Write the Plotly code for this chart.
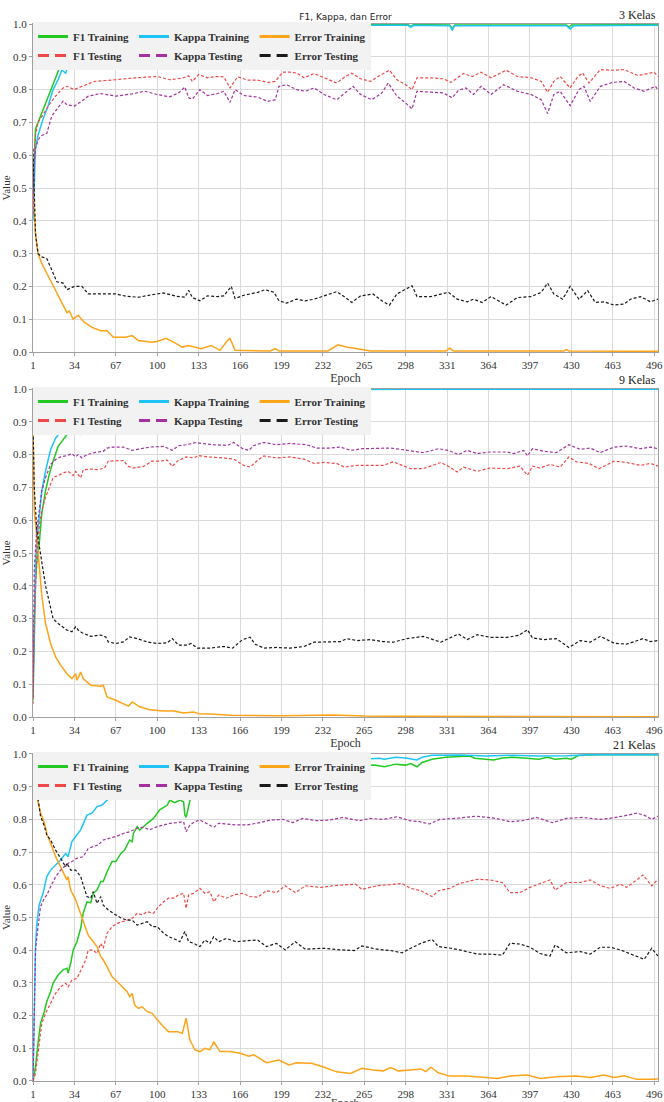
import plotly.graph_objects as go

# ---------------- data ----------------
TICK_EPOCHS = [1, 34, 67, 100, 133, 166, 199, 232, 265, 298, 331, 364, 397, 430, 463, 496]
Y_TICKS = [0.0, 0.1, 0.2, 0.3, 0.4, 0.5, 0.6, 0.7, 0.8, 0.9, 1.0]
PANEL_LABELS = ["3 Kelas", "9 Kelas", "21 Kelas"]
SERIES_NAMES = ["F1 Training", "F1 Testing", "Kappa Training", "Kappa Testing",
                "Error Training", "Error Testing"]

# ---- 3 Kelas ----
P1_F1_TRAIN = [(1,0.48),(2,0.62),(3,0.68),(5,0.70),(7,0.72),(10,0.745),(14,0.785),(18,0.83),(22,0.866),(24,0.884),(26,0.89),(30,0.91),(35,0.93),(40,0.945),(50,0.96),(60,0.972),(80,0.985),(100,0.99),(130,0.993),(160,0.995),(200,0.997),(240,0.998),(300,0.998),(302,0.992),(304,0.998),(333,0.997),(335,0.986),(337,0.997),(400,0.998),(426,0.997),(428,0.99),(430,0.997),(499,0.998)]
P1_KAPPA_TRAIN = [(1,0.40),(2,0.55),(3,0.62),(5,0.66),(9,0.71),(13,0.75),(17,0.80),(21,0.83),(24,0.86),(27,0.85),(29,0.876),(32,0.87),(34,0.866),(36,0.88),(40,0.91),(50,0.94),(60,0.96),(80,0.978),(100,0.985),(130,0.99),(160,0.993),(200,0.995),(250,0.996),(300,0.996),(302,0.99),(304,0.996),(333,0.995),(335,0.982),(337,0.995),(426,0.995),(429,0.985),(432,0.995),(499,0.996)]
P1_F1_TEST = [(1,0.52),(2,0.62),(3,0.66),(5,0.70),(10,0.73),(15,0.76),(20,0.785),(25,0.805),(28,0.81),(34,0.80),(40,0.81),(50,0.825),(67,0.83),(80,0.835),(100,0.84),(110,0.83),(120,0.835),(125,0.842),(128,0.825),(133,0.846),(140,0.836),(147,0.84),(153,0.839),(158,0.805),(164,0.839),(172,0.829),(180,0.829),(188,0.822),(194,0.825),(200,0.853),(206,0.853),(211,0.851),(217,0.836),(225,0.849),(233,0.836),(243,0.82),(250,0.84),(255,0.85),(262,0.833),(270,0.825),(276,0.84),(285,0.859),(291,0.83),(298,0.815),(303,0.80),(307,0.836),(318,0.836),(328,0.833),(334,0.822),(339,0.836),(344,0.849),(351,0.84),(358,0.853),(366,0.836),(378,0.859),(387,0.84),(398,0.836),(406,0.825),(411,0.792),(416,0.825),(421,0.84),(429,0.805),(435,0.839),(439,0.851),(444,0.82),(453,0.861),(463,0.859),(472,0.861),(483,0.843),(496,0.853),(499,0.84)]
P1_KAPPA_TEST = [(1,0.42),(2,0.58),(3,0.62),(5,0.647),(8,0.66),(12,0.667),(16,0.72),(20,0.74),(25,0.765),(28,0.754),(34,0.75),(38,0.76),(45,0.78),(55,0.788),(67,0.78),(80,0.787),(90,0.795),(100,0.785),(110,0.778),(117,0.79),(122,0.808),(125,0.775),(128,0.771),(134,0.80),(140,0.782),(148,0.788),(153,0.795),(158,0.761),(162,0.80),(169,0.782),(180,0.777),(188,0.764),(194,0.769),(197,0.81),(203,0.815),(211,0.80),(218,0.795),(225,0.805),(233,0.785),(243,0.769),(250,0.79),(256,0.81),(262,0.785),(271,0.769),(279,0.79),(284,0.82),(291,0.78),(298,0.759),(303,0.741),(307,0.795),(318,0.792),(328,0.79),(335,0.775),(340,0.798),(346,0.805),(352,0.785),(358,0.81),(366,0.785),(376,0.815),(387,0.795),(398,0.785),(406,0.769),(411,0.727),(416,0.785),(421,0.795),(429,0.751),(436,0.80),(440,0.81),(445,0.764),(453,0.81),(463,0.822),(472,0.825),(480,0.805),(488,0.795),(497,0.81),(499,0.798)]
P1_ERROR_TRAIN = [(1,0.50),(2,0.42),(3,0.36),(5,0.30),(8,0.27),(12,0.24),(16,0.21),(20,0.18),(24,0.15),(28,0.12),(30,0.125),(33,0.10),(37,0.112),(42,0.09),(48,0.075),(55,0.065),(60,0.065),(65,0.045),(75,0.045),(80,0.05),(85,0.035),(95,0.03),(100,0.032),(107,0.042),(113,0.03),(120,0.015),(125,0.02),(130,0.015),(135,0.01),(143,0.02),(150,0.005),(156,0.035),(158,0.041),(162,0.005),(190,0.003),(194,0.01),(197,0.003),(236,0.003),(244,0.022),(251,0.015),(261,0.008),(270,0.003),(330,0.003),(333,0.012),(336,0.003),(424,0.003),(426,0.007),(428,0.003),(499,0.002)]
P1_ERROR_TEST = [(1,0.62),(2,0.45),(3,0.36),(5,0.30),(8,0.29),(12,0.285),(16,0.25),(20,0.214),(25,0.21),(28,0.19),(34,0.20),(40,0.20),(45,0.177),(55,0.177),(67,0.177),(75,0.17),(85,0.167),(95,0.174),(105,0.18),(115,0.17),(122,0.167),(125,0.188),(128,0.166),(134,0.156),(140,0.171),(148,0.169),(153,0.171),(159,0.20),(162,0.163),(169,0.173),(180,0.182),(186,0.19),(193,0.182),(197,0.156),(203,0.149),(211,0.161),(218,0.156),(225,0.161),(233,0.171),(243,0.184),(250,0.166),(255,0.151),(262,0.171),(272,0.177),(279,0.156),(285,0.143),(291,0.177),(298,0.192),(303,0.202),(307,0.169),(318,0.169),(332,0.182),(339,0.161),(347,0.153),(352,0.161),(359,0.151),(366,0.169),(378,0.143),(387,0.166),(398,0.169),(406,0.182),(411,0.21),(416,0.177),(423,0.161),(429,0.20),(436,0.161),(443,0.187),(449,0.151),(456,0.153),(464,0.143),(472,0.146),(477,0.161),(485,0.169),(493,0.153),(499,0.161)]

# ---- 9 Kelas ----
P2_F1_TRAIN = [(1,0.05),(2,0.30),(3,0.41),(4,0.47),(6,0.53),(8,0.62),(11,0.69),(14,0.74),(17,0.78),(21,0.825),(25,0.845),(29,0.866),(33,0.88),(36,0.87),(37,0.88),(39,0.86),(40,0.884),(45,0.91),(55,0.94),(70,0.965),(90,0.98),(120,0.99),(150,0.995),(200,0.998),(300,0.999),(400,0.999),(499,0.999)]
P2_KAPPA_TRAIN = [(1,0.10),(2,0.35),(3,0.46),(4,0.53),(6,0.60),(8,0.69),(11,0.75),(15,0.815),(19,0.85),(23,0.87),(27,0.886),(32,0.90),(40,0.93),(55,0.96),(70,0.975),(90,0.985),(120,0.993),(150,0.997),(200,0.999),(300,0.999),(400,0.999),(499,0.999)]
P2_F1_TEST = [(1,0.04),(2,0.30),(4,0.49),(6,0.58),(8,0.63),(11,0.67),(15,0.71),(17,0.73),(21,0.736),(25,0.744),(29,0.749),(33,0.736),(35,0.749),(39,0.729),(41,0.754),(47,0.756),(53,0.754),(58,0.759),(61,0.78),(67,0.78),(73,0.782),(77,0.764),(81,0.759),(89,0.764),(96,0.78),(102,0.78),(108,0.783),(112,0.764),(116,0.78),(123,0.793),(129,0.79),(133,0.797),(140,0.793),(153,0.79),(161,0.786),(169,0.767),(174,0.762),(180,0.783),(185,0.796),(195,0.79),(206,0.793),(217,0.786),(225,0.773),(233,0.776),(243,0.773),(249,0.762),(259,0.767),(270,0.767),(280,0.767),(288,0.778),(296,0.767),(302,0.757),(312,0.757),(326,0.776),(333,0.762),(339,0.747),(344,0.762),(355,0.749),(365,0.759),(379,0.757),(389,0.765),(395,0.737),(399,0.765),(405,0.759),(413,0.77),(421,0.762),(428,0.793),(434,0.778),(444,0.773),(452,0.757),(464,0.78),(474,0.776),(485,0.767),(493,0.773),(499,0.765)]
P2_KAPPA_TEST = [(1,0.06),(2,0.45),(4,0.57),(6,0.64),(8,0.69),(11,0.73),(15,0.77),(19,0.785),(23,0.793),(28,0.797),(32,0.803),(35,0.793),(37,0.80),(40,0.79),(44,0.80),(51,0.807),(57,0.81),(60,0.82),(65,0.823),(73,0.823),(80,0.813),(86,0.817),(94,0.823),(105,0.825),(112,0.813),(117,0.827),(123,0.83),(131,0.837),(135,0.834),(145,0.83),(156,0.828),(161,0.837),(168,0.818),(173,0.813),(177,0.828),(185,0.837),(195,0.83),(206,0.834),(219,0.83),(227,0.82),(238,0.82),(246,0.823),(254,0.813),(264,0.818),(275,0.818),(286,0.82),(299,0.813),(312,0.806),(324,0.818),(332,0.813),(340,0.80),(347,0.813),(355,0.803),(365,0.808),(379,0.808),(384,0.803),(392,0.813),(395,0.796),(399,0.818),(408,0.81),(418,0.806),(428,0.83),(437,0.816),(445,0.82),(453,0.806),(464,0.823),(474,0.826),(485,0.818),(493,0.823),(499,0.818)]
P2_ERROR_TRAIN = [(1,0.90),(2,0.63),(4,0.55),(6,0.45),(8,0.37),(11,0.285),(15,0.224),(19,0.183),(23,0.158),(28,0.132),(32,0.117),(35,0.132),(36,0.112),(39,0.137),(41,0.117),(47,0.097),(55,0.094),(57,0.097),(60,0.061),(67,0.051),(73,0.041),(77,0.033),(80,0.046),(86,0.031),(94,0.022),(105,0.018),(113,0.018),(121,0.012),(129,0.015),(133,0.01),(142,0.009),(159,0.005),(200,0.004),(230,0.004),(240,0.006),(265,0.003),(300,0.002),(499,0.001)]
P2_ERROR_TEST = [(1,0.90),(2,0.70),(4,0.57),(6,0.52),(8,0.46),(11,0.40),(14,0.35),(17,0.30),(21,0.285),(28,0.265),(32,0.26),(35,0.275),(37,0.265),(40,0.257),(47,0.246),(55,0.25),(59,0.244),(61,0.229),(67,0.224),(73,0.229),(78,0.244),(84,0.239),(92,0.229),(100,0.224),(108,0.226),(112,0.239),(117,0.219),(123,0.219),(127,0.224),(132,0.21),(142,0.21),(153,0.215),(160,0.21),(168,0.236),(174,0.243),(178,0.222),(185,0.21),(195,0.212),(206,0.21),(217,0.215),(225,0.228),(235,0.228),(246,0.23),(251,0.239),(259,0.233),(270,0.236),(280,0.23),(288,0.228),(299,0.239),(312,0.246),(326,0.228),(333,0.241),(340,0.253),(347,0.236),(355,0.251),(365,0.243),(379,0.243),(388,0.249),(395,0.266),(399,0.241),(408,0.236),(418,0.239),(428,0.212),(437,0.233),(445,0.228),(453,0.246),(464,0.225),(474,0.222),(487,0.239),(493,0.23),(499,0.233)]

# ---- 21 Kelas ----
P3_F1_TRAIN = [(1,0.0),(3,0.044),(5,0.115),(7,0.176),(10,0.212),(12,0.243),(15,0.273),(17,0.299),(21,0.324),(25,0.34),(28,0.345),(29,0.33),(31,0.36),(33,0.40),(36,0.426),(39,0.467),(41,0.513),(44,0.548),(47,0.545),(49,0.574),(52,0.584),(55,0.61),(57,0.61),(60,0.64),(64,0.671),(67,0.671),(71,0.696),(74,0.706),(78,0.737),(80,0.732),(81,0.757),(84,0.778),(86,0.767),(89,0.778),(92,0.788),(97,0.803),(102,0.829),(108,0.844),(110,0.859),(114,0.851),(118,0.859),(121,0.854),(122,0.813),(123,0.806),(126,0.854),(128,0.89),(135,0.92),(140,0.91),(142,0.877),(144,0.91),(160,0.93),(190,0.945),(230,0.955),(265,0.963),(273,0.966),(281,0.961),(290,0.969),(298,0.966),(302,0.971),(307,0.961),(311,0.974),(319,0.984),(330,0.99),(341,0.992),(349,0.994),(353,0.987),(362,0.984),(368,0.982),(375,0.988),(383,0.99),(394,0.987),(404,0.984),(411,0.99),(417,0.984),(426,0.987),(430,0.984),(436,0.996),(447,0.997),(453,0.998),(499,0.998)]
P3_KAPPA_TRAIN = [(1,0.0),(2,0.26),(3,0.41),(4,0.48),(6,0.54),(9,0.574),(12,0.625),(15,0.645),(19,0.66),(23,0.676),(27,0.696),(29,0.686),(32,0.732),(35,0.747),(39,0.768),(44,0.813),(48,0.819),(52,0.839),(56,0.844),(60,0.859),(64,0.87),(69,0.88),(73,0.89),(85,0.91),(100,0.93),(130,0.95),(170,0.965),(220,0.975),(265,0.984),(277,0.987),(281,0.984),(290,0.99),(298,0.988),(307,0.982),(311,0.99),(319,0.996),(341,0.997),(362,0.994),(383,0.996),(404,0.994),(426,0.995),(447,0.998),(499,0.998)]
P3_F1_TEST = [(1,0.0),(3,0.023),(6,0.115),(8,0.176),(11,0.207),(15,0.238),(19,0.268),(23,0.288),(27,0.299),(29,0.288),(32,0.309),(36,0.314),(39,0.339),(43,0.37),(45,0.40),(49,0.40),(52,0.39),(55,0.421),(57,0.406),(60,0.452),(64,0.472),(68,0.482),(72,0.487),(76,0.492),(80,0.497),(84,0.513),(88,0.508),(92,0.518),(97,0.513),(101,0.533),(105,0.548),(109,0.559),(113,0.559),(117,0.569),(121,0.574),(123,0.528),(125,0.569),(129,0.574),(134,0.589),(138,0.574),(142,0.579),(145,0.548),(149,0.569),(155,0.559),(161,0.569),(168,0.574),(174,0.564),(180,0.562),(187,0.582),(195,0.576),(202,0.597),(210,0.576),(218,0.597),(230,0.592),(240,0.597),(258,0.602),(263,0.586),(275,0.597),(286,0.602),(295,0.604),(302,0.589),(310,0.582),(319,0.564),(324,0.582),(333,0.589),(341,0.604),(355,0.617),(365,0.615),(375,0.607),(381,0.576),(389,0.576),(397,0.592),(405,0.604),(413,0.615),(417,0.584),(426,0.607),(437,0.607),(445,0.615),(453,0.597),(461,0.589),(469,0.602),(474,0.592),(481,0.612),(487,0.63),(494,0.597),(499,0.617)]
P3_KAPPA_TEST = [(1,0.0),(2,0.26),(3,0.40),(5,0.472),(7,0.533),(10,0.559),(12,0.569),(15,0.594),(19,0.625),(23,0.645),(27,0.66),(29,0.666),(32,0.671),(36,0.681),(41,0.686),(45,0.711),(49,0.717),(53,0.722),(57,0.737),(62,0.742),(68,0.749),(73,0.757),(78,0.762),(84,0.773),(89,0.776),(94,0.768),(100,0.778),(105,0.783),(110,0.788),(115,0.79),(121,0.793),(123,0.762),(126,0.783),(130,0.793),(134,0.798),(139,0.788),(145,0.776),(149,0.788),(155,0.786),(163,0.783),(171,0.783),(182,0.79),(190,0.798),(200,0.80),(208,0.79),(216,0.803),(227,0.796),(237,0.798),(248,0.806),(261,0.796),(269,0.803),(280,0.80),(291,0.808),(301,0.796),(309,0.793),(317,0.786),(325,0.80),(338,0.803),(354,0.81),(370,0.803),(381,0.793),(391,0.796),(402,0.806),(415,0.79),(426,0.803),(439,0.806),(452,0.80),(460,0.803),(471,0.81),(482,0.819),(488,0.813),(494,0.80),(499,0.81)]
P3_ERROR_TRAIN = [(1,0.97),(3,0.92),(4,0.87),(7,0.82),(10,0.79),(12,0.757),(15,0.727),(19,0.686),(23,0.655),(27,0.625),(28,0.615),(29,0.625),(31,0.584),(35,0.554),(39,0.513),(43,0.472),(45,0.446),(49,0.426),(52,0.411),(55,0.38),(57,0.37),(60,0.35),(64,0.319),(68,0.304),(72,0.288),(76,0.273),(78,0.258),(80,0.268),(82,0.232),(85,0.222),(88,0.227),(92,0.212),(96,0.207),(100,0.187),(105,0.166),(109,0.151),(113,0.151),(116,0.151),(120,0.146),(123,0.192),(126,0.125),(130,0.095),(134,0.09),(138,0.10),(142,0.095),(145,0.12),(150,0.09),(158,0.09),(166,0.085),(173,0.076),(177,0.08),(187,0.056),(197,0.064),(205,0.049),(211,0.056),(223,0.054),(233,0.042),(243,0.028),(254,0.023),(263,0.039),(272,0.034),(280,0.031),(286,0.041),(292,0.031),(302,0.034),(310,0.037),(314,0.029),(318,0.042),(324,0.025),(333,0.015),(347,0.015),(360,0.011),(371,0.008),(381,0.015),(395,0.018),(405,0.008),(418,0.013),(434,0.015),(445,0.011),(456,0.018),(464,0.011),(472,0.016),(482,0.005),(493,0.005),(499,0.006)]
P3_ERROR_TEST = [(1,0.97),(3,0.92),(5,0.87),(7,0.81),(10,0.78),(12,0.752),(15,0.737),(19,0.706),(23,0.681),(27,0.655),(28,0.666),(31,0.645),(35,0.645),(39,0.625),(41,0.60),(44,0.564),(47,0.559),(49,0.579),(52,0.543),(55,0.564),(57,0.538),(61,0.523),(67,0.508),(72,0.497),(76,0.492),(80,0.492),(84,0.477),(88,0.482),(92,0.487),(96,0.472),(100,0.472),(105,0.452),(109,0.441),(113,0.436),(118,0.426),(122,0.457),(125,0.426),(129,0.421),(134,0.411),(138,0.431),(142,0.421),(145,0.441),(149,0.426),(155,0.436),(163,0.426),(171,0.429),(180,0.431),(187,0.411),(195,0.421),(202,0.401),(210,0.426),(218,0.403),(233,0.406),(246,0.401),(257,0.399),(263,0.413),(275,0.403),(286,0.399),(295,0.392),(302,0.406),(310,0.421),(319,0.433),(324,0.411),(334,0.406),(341,0.401),(355,0.388),(365,0.388),(375,0.385),(381,0.421),(389,0.419),(397,0.409),(405,0.39),(413,0.382),(417,0.416),(426,0.392),(437,0.396),(445,0.388),(453,0.409),(461,0.409),(469,0.401),(477,0.388),(488,0.372),(494,0.406),(499,0.382)]

PANELS = [
    {"F1 Training": P1_F1_TRAIN, "F1 Testing": P1_F1_TEST,
     "Kappa Training": P1_KAPPA_TRAIN, "Kappa Testing": P1_KAPPA_TEST,
     "Error Training": P1_ERROR_TRAIN, "Error Testing": P1_ERROR_TEST},
    {"F1 Training": P2_F1_TRAIN, "F1 Testing": P2_F1_TEST,
     "Kappa Training": P2_KAPPA_TRAIN, "Kappa Testing": P2_KAPPA_TEST,
     "Error Training": P2_ERROR_TRAIN, "Error Testing": P2_ERROR_TEST},
    {"F1 Training": P3_F1_TRAIN, "F1 Testing": P3_F1_TEST,
     "Kappa Training": P3_KAPPA_TRAIN, "Kappa Testing": P3_KAPPA_TEST,
     "Error Training": P3_ERROR_TRAIN, "Error Testing": P3_ERROR_TEST},
]

# ---------------- styles ----------------
COLORS = {"F1 Training": "#22c922", "F1 Testing": "#f04848",
          "Kappa Training": "#1ec4f8", "Kappa Testing": "#a3319f",
          "Error Training": "#ffa318", "Error Testing": "#1a1a1a"}
GROUP = {"F1 Training": "F1", "F1 Testing": "F1",
         "Kappa Training": "Kappa", "Kappa Testing": "Kappa",
         "Error Training": "Error", "Error Testing": "Error"}
W, H = 664, 1102
M_L, M_R, M_T, M_B = 33, 6, 24, 21
DOMAINS = [(0.68969, 1.0), (0.34437, 0.65468), (0.0, 0.30937)]
SERIF = "Liberation Serif, Times New Roman, serif"
GRID = "#dadada"
AXLINE = "#a0a0a0"

fig = go.Figure()

for p, panel in enumerate(PANELS):
    idx = "" if p == 0 else str(p + 1)
    xa, ya = "x" + idx, "y" + idx
    leg = "legend" + idx
    for name in ["F1 Training", "Kappa Training", "Error Training",
                 "F1 Testing", "Kappa Testing", "Error Testing"]:
        pts = panel[name]
        testing = "Testing" in name
        fig.add_trace(go.Scatter(
            x=[e for e, _ in pts], y=[v for _, v in pts],
            mode="lines", name=name, showlegend=False,
            legendgroup=GROUP[name] + idx,
            line=dict(color=COLORS[name], width=1.2 if testing else 1.5,
                      dash="3px,2px" if testing else "solid"),
            xaxis=xa, yaxis=ya, hoverinfo="skip"))
    for rank, name in enumerate(SERIES_NAMES):
        testing = "Testing" in name
        fig.add_trace(go.Scatter(
            x=[None], y=[None], mode="lines", name=name,
            legend=leg, legendgroup=GROUP[name] + idx, legendrank=rank + 1,
            line=dict(color=COLORS[name], width=3,
                      dash="11px,6px" if testing else "solid"),
            xaxis=xa, yaxis=ya, hoverinfo="skip"))

    last = (p == len(PANELS) - 1)
    axis_common = dict(showline=True, linecolor=AXLINE, linewidth=1, mirror=True,
                       showgrid=True, gridcolor=GRID, gridwidth=1, zeroline=False,
                       ticks="outside", ticklen=3, tickcolor=AXLINE,
                       tickfont=dict(family=SERIF, size=11, color="#333"))
    fig.update_layout(**{
        "xaxis" + idx: dict(axis_common, anchor=ya, domain=[0, 1], range=[1, 499],
                            tickmode="array", tickvals=TICK_EPOCHS,
                            ticktext=[str(t) for t in TICK_EPOCHS],
                            title=dict(text="" if last else "Epoch", standoff=2,
                                       font=dict(family=SERIF, size=12, color="#333"))),
        "yaxis" + idx: dict(axis_common, anchor=xa, domain=list(DOMAINS[p]), range=[0, 1.0],
                            tickmode="array", tickvals=Y_TICKS,
                            ticktext=["%.1f" % t for t in Y_TICKS],
                            title=dict(text="Value", standoff=2,
                                       font=dict(family=SERIF, size=11, color="#333"))),
        leg: dict(x=0, y=DOMAINS[p][1] + 2 / (H - M_T - M_B), xref="paper", yref="paper",
                  xanchor="left", yanchor="top", orientation="h",
                  traceorder="grouped", tracegroupgap=0, itemwidth=30,
                  bgcolor="#f2f2f2", borderwidth=0,
                  font=dict(family=SERIF, size=11, color="#333", weight="bold")),
    })
    fig.add_annotation(text=PANEL_LABELS[p], x=1, y=DOMAINS[p][1], xref="paper", yref="paper",
                       xanchor="right", yanchor="bottom", showarrow=False,
                       font=dict(family=SERIF, size=12, color="#222"))

# bottom panel's x title sits at the very bottom edge (cut there in the reference too)
fig.add_annotation(text="Epoch", x=0.5, y=0, xref="paper", yref="paper",
                   xanchor="center", yanchor="top", yshift=-13, showarrow=False,
                   font=dict(family=SERIF, size=11, color="#333"))

fig.update_layout(
    width=W, height=H,
    margin=dict(l=M_L, r=M_R, t=M_T, b=M_B, autoexpand=False),
    paper_bgcolor="white", plot_bgcolor="white",
    title=dict(text="F1, Kappa, dan Error", x=0.5, xref="paper",
               y=1 - 17 / H, yref="container", yanchor="middle", xanchor="center",
               font=dict(family="DejaVu Sans, sans-serif", size=9, color="#222")),
)

fig.write_html("out.html", config={"displayModeBar": False},
               post_script="document.body.style.margin='0';document.body.style.padding='0';")
